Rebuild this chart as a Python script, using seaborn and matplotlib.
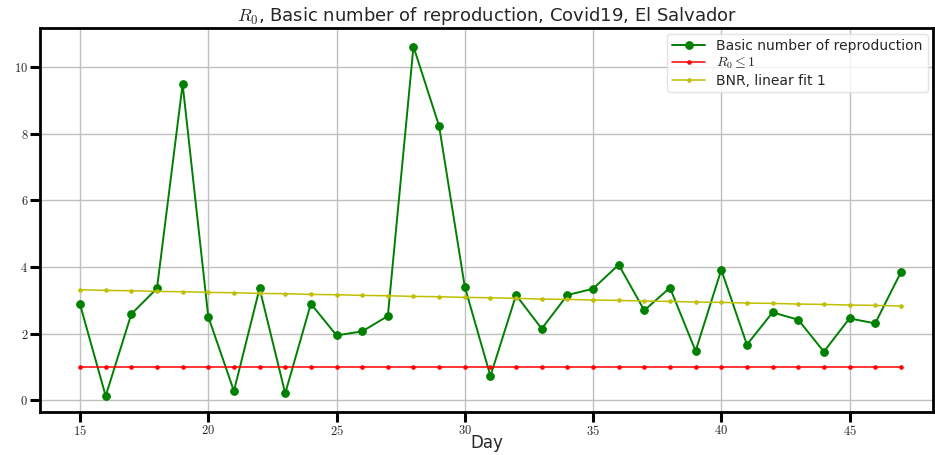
import numpy as np
import pandas as pd
import matplotlib
matplotlib.use('Agg')
import matplotlib.pyplot as plt
import seaborn as sns
from matplotlib.ticker import FuncFormatter

days = list(range(15, 48))
r0_values = [2.88, 0.13, 2.59, 3.36, 9.49, 2.51, 0.28, 3.36, 0.21, 2.90,
             1.95, 2.07, 2.53, 10.62, 8.23, 3.41, 0.73, 3.16, 2.15, 3.16,
             3.35, 4.07, 2.70, 3.38, 1.48, 3.92, 1.67, 2.64, 2.42, 1.46,
             2.46, 2.31, 3.84]
threshold = [1.0] * len(days)
fit_values = [3.32, 3.30, 3.29, 3.27, 3.26, 3.24, 3.23, 3.21, 3.20, 3.18,
              3.17, 3.15, 3.14, 3.12, 3.11, 3.09, 3.08, 3.06, 3.04, 3.03,
              3.01, 3.00, 2.98, 2.97, 2.95, 2.94, 2.92, 2.91, 2.89, 2.88,
              2.86, 2.85, 2.83]

df = pd.DataFrame({'day': days, 'r0': r0_values, 'one': threshold, 'fit': fit_values})

sns.set_style('whitegrid')
plt.rcParams['font.family'] = ['DejaVu Sans']
plt.rcParams['mathtext.fontset'] = 'cm'

fig = plt.figure(figsize=(9.35, 4.55), dpi=100)
ax = fig.add_axes([0.0428, 0.0945, 0.9552, 0.8435])

sns.lineplot(data=df, x='day', y='r0', ax=ax, color='g', marker='o', markersize=5.5,
             markeredgecolor='g', linewidth=1.4, label='Basic number of reproduction')
sns.lineplot(data=df, x='day', y='one', ax=ax, color='r', marker='.', markersize=5,
             markeredgecolor='r', linewidth=1.1, label=r'$R_0 \leq 1$')
sns.lineplot(data=df, x='day', y='fit', ax=ax, color='y', marker='.', markersize=5,
             markeredgecolor='y', linewidth=1.1, label='BNR, linear fit 1')

ax.set_xlim(13.44, 48.26)
ax.set_ylim(-0.35, 11.17)
ax.set_xticks([15, 20, 25, 30, 35, 40, 45])
ax.set_yticks([0, 2, 4, 6, 8, 10])
ax.xaxis.set_major_formatter(FuncFormatter(lambda v, p: f'${v:g}$'))
ax.yaxis.set_major_formatter(FuncFormatter(lambda v, p: f'${v:g}$'))
ax.tick_params(axis='both', which='major', direction='out', length=7, width=2.2,
               color='black', labelsize=9, pad=1.5, bottom=True, left=True)

for sp in ax.spines.values():
    sp.set_color('black')
    sp.set_linewidth(2.0)
ax.grid(True, color='#c0c0c0', linewidth=1.0)

ax.set_title(r'$R_0$, Basic number of reproduction, Covid19, El Salvador',
             fontsize=13, pad=5)
ax.set_xlabel('Day', fontsize=12)
ax.xaxis.set_label_coords(0.5, -0.058)
ax.set_ylabel('')

leg = ax.legend(loc='upper right', fontsize=10, frameon=True, borderaxespad=0.4,
                handlelength=2.4, labelspacing=0.2, borderpad=0.35)
leg.get_frame().set_edgecolor('#dddddd')

fig.savefig('out.png', dpi=100)
plt.close(fig)
